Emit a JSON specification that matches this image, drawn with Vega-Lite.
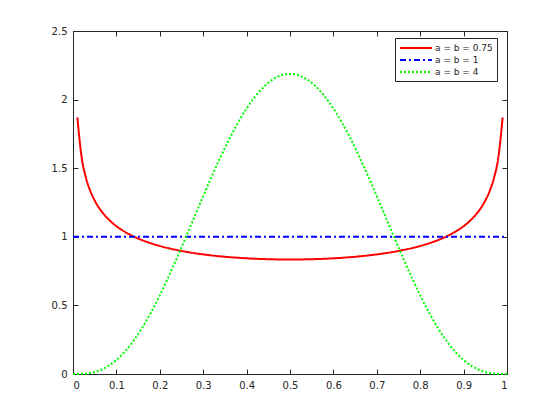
{
  "$schema": "https://vega.github.io/schema/vega-lite/v6.json",
  "width": 434,
  "height": 343,
  "autosize": "none",
  "padding": {"left": 73, "top": 31, "right": 53, "bottom": 46},
  "background": "white",
  "config": {
    "font": "DejaVu Sans",
    "view": {"stroke": "#262626", "strokeWidth": 1},
    "axis": {"grid": false, "domainColor": "#262626", "tickColor": "#262626", "labelColor": "#262626", "labelFontSize": 10, "labelFont": "DejaVu Sans", "title": null}
  },
  "data": {"values": [
    {"s": "a = b = 0.75", "x": 0.01, "y": 1.871},
    {"s": "a = b = 0.75", "x": 0.02, "y": 1.5773},
    {"s": "a = b = 0.75", "x": 0.03, "y": 1.4289},
    {"s": "a = b = 0.75", "x": 0.04, "y": 1.3332},
    {"s": "a = b = 0.75", "x": 0.05, "y": 1.2642},
    {"s": "a = b = 0.75", "x": 0.06, "y": 1.2111},
    {"s": "a = b = 0.75", "x": 0.08, "y": 1.1331},
    {"s": "a = b = 0.75", "x": 0.10, "y": 1.0775},
    {"s": "a = b = 0.75", "x": 0.12, "y": 1.0353},
    {"s": "a = b = 0.75", "x": 0.14, "y": 1.0019},
    {"s": "a = b = 0.75", "x": 0.17, "y": 0.963},
    {"s": "a = b = 0.75", "x": 0.20, "y": 0.9332},
    {"s": "a = b = 0.75", "x": 0.25, "y": 0.8969},
    {"s": "a = b = 0.75", "x": 0.30, "y": 0.8718},
    {"s": "a = b = 0.75", "x": 0.35, "y": 0.8546},
    {"s": "a = b = 0.75", "x": 0.40, "y": 0.8432},
    {"s": "a = b = 0.75", "x": 0.45, "y": 0.8367},
    {"s": "a = b = 0.75", "x": 0.50, "y": 0.8346},
    {"s": "a = b = 0.75", "x": 0.55, "y": 0.8367},
    {"s": "a = b = 0.75", "x": 0.60, "y": 0.8432},
    {"s": "a = b = 0.75", "x": 0.65, "y": 0.8546},
    {"s": "a = b = 0.75", "x": 0.70, "y": 0.8718},
    {"s": "a = b = 0.75", "x": 0.75, "y": 0.8969},
    {"s": "a = b = 0.75", "x": 0.80, "y": 0.9332},
    {"s": "a = b = 0.75", "x": 0.83, "y": 0.963},
    {"s": "a = b = 0.75", "x": 0.86, "y": 1.0019},
    {"s": "a = b = 0.75", "x": 0.88, "y": 1.0353},
    {"s": "a = b = 0.75", "x": 0.90, "y": 1.0775},
    {"s": "a = b = 0.75", "x": 0.92, "y": 1.1331},
    {"s": "a = b = 0.75", "x": 0.94, "y": 1.2111},
    {"s": "a = b = 0.75", "x": 0.95, "y": 1.2642},
    {"s": "a = b = 0.75", "x": 0.96, "y": 1.3332},
    {"s": "a = b = 0.75", "x": 0.97, "y": 1.4289},
    {"s": "a = b = 0.75", "x": 0.98, "y": 1.5773},
    {"s": "a = b = 0.75", "x": 0.99, "y": 1.871},
    {"s": "a = b = 1", "x": 0, "y": 1},
    {"s": "a = b = 1", "x": 1, "y": 1},
    {"s": "a = b = 4", "x": 0.00, "y": 0},
    {"s": "a = b = 4", "x": 0.02, "y": 0.0011},
    {"s": "a = b = 4", "x": 0.04, "y": 0.0079},
    {"s": "a = b = 4", "x": 0.06, "y": 0.0251},
    {"s": "a = b = 4", "x": 0.08, "y": 0.0558},
    {"s": "a = b = 4", "x": 0.10, "y": 0.1021},
    {"s": "a = b = 4", "x": 0.12, "y": 0.1649},
    {"s": "a = b = 4", "x": 0.14, "y": 0.2443},
    {"s": "a = b = 4", "x": 0.16, "y": 0.3399},
    {"s": "a = b = 4", "x": 0.18, "y": 0.4502},
    {"s": "a = b = 4", "x": 0.20, "y": 0.5734},
    {"s": "a = b = 4", "x": 0.22, "y": 0.7074},
    {"s": "a = b = 4", "x": 0.24, "y": 0.8496},
    {"s": "a = b = 4", "x": 0.26, "y": 0.9971},
    {"s": "a = b = 4", "x": 0.28, "y": 1.1471},
    {"s": "a = b = 4", "x": 0.30, "y": 1.2965},
    {"s": "a = b = 4", "x": 0.32, "y": 1.4425},
    {"s": "a = b = 4", "x": 0.34, "y": 1.582},
    {"s": "a = b = 4", "x": 0.36, "y": 1.7123},
    {"s": "a = b = 4", "x": 0.38, "y": 1.8309},
    {"s": "a = b = 4", "x": 0.40, "y": 1.9354},
    {"s": "a = b = 4", "x": 0.42, "y": 2.0238},
    {"s": "a = b = 4", "x": 0.44, "y": 2.0944},
    {"s": "a = b = 4", "x": 0.46, "y": 2.1458},
    {"s": "a = b = 4", "x": 0.48, "y": 2.177},
    {"s": "a = b = 4", "x": 0.50, "y": 2.1875},
    {"s": "a = b = 4", "x": 0.52, "y": 2.177},
    {"s": "a = b = 4", "x": 0.54, "y": 2.1458},
    {"s": "a = b = 4", "x": 0.56, "y": 2.0944},
    {"s": "a = b = 4", "x": 0.58, "y": 2.0238},
    {"s": "a = b = 4", "x": 0.60, "y": 1.9354},
    {"s": "a = b = 4", "x": 0.62, "y": 1.8309},
    {"s": "a = b = 4", "x": 0.64, "y": 1.7123},
    {"s": "a = b = 4", "x": 0.66, "y": 1.582},
    {"s": "a = b = 4", "x": 0.68, "y": 1.4425},
    {"s": "a = b = 4", "x": 0.70, "y": 1.2965},
    {"s": "a = b = 4", "x": 0.72, "y": 1.1471},
    {"s": "a = b = 4", "x": 0.74, "y": 0.9971},
    {"s": "a = b = 4", "x": 0.76, "y": 0.8496},
    {"s": "a = b = 4", "x": 0.78, "y": 0.7074},
    {"s": "a = b = 4", "x": 0.80, "y": 0.5734},
    {"s": "a = b = 4", "x": 0.82, "y": 0.4502},
    {"s": "a = b = 4", "x": 0.84, "y": 0.3399},
    {"s": "a = b = 4", "x": 0.86, "y": 0.2443},
    {"s": "a = b = 4", "x": 0.88, "y": 0.1649},
    {"s": "a = b = 4", "x": 0.90, "y": 0.1021},
    {"s": "a = b = 4", "x": 0.92, "y": 0.0558},
    {"s": "a = b = 4", "x": 0.94, "y": 0.0251},
    {"s": "a = b = 4", "x": 0.96, "y": 0.0079},
    {"s": "a = b = 4", "x": 0.98, "y": 0.0011},
    {"s": "a = b = 4", "x": 1.00, "y": 0}
  ]},
  "layer": [
    {
      "mark": {"type": "line", "strokeWidth": 2, "interpolate": "monotone"},
      "encoding": {
        "x": {"field": "x", "type": "quantitative", "scale": {"domain": [0, 1], "nice": false},
              "axis": {"orient": "bottom", "values": [0,0.1,0.2,0.3,0.4,0.5,0.6,0.7,0.8,0.9,1], "format": "~f", "tickSize": -5, "labelPadding": 11}},
        "y": {"field": "y", "type": "quantitative", "scale": {"domain": [0, 2.5], "nice": false, "zero": false},
              "axis": {"orient": "left", "values": [0,0.5,1,1.5,2,2.5], "format": "~f", "tickSize": -5, "labelPadding": 11}},
        "color": {"field": "s", "type": "nominal",
                  "scale": {"domain": ["a = b = 0.75", "a = b = 1", "a = b = 4"], "range": ["#ff0000", "#0000ff", "#00ff00"]},
                  "legend": {"title": null, "orient": "none", "legendX": 322, "legendY": 7, "symbolType": "M-3.2,0H3.2", "symbolSize": 100, "symbolOffset": 11, "symbolStrokeWidth": 2, "labelFontSize": 9, "labelFont": "DejaVu Sans", "labelColor": "#262626", "strokeColor": "#262626", "fillColor": "white", "padding": 4, "rowPadding": 1, "labelOffset": 13, "cornerRadius": 0}},
        "strokeDash": {"field": "s", "type": "nominal",
                  "scale": {"domain": ["a = b = 0.75", "a = b = 1", "a = b = 4"], "range": [[1, 0], [6, 3, 2, 3], [2, 2]]},
                  "legend": {"title": null, "orient": "none", "legendX": 322, "legendY": 7}}
      }
    },
    {
      "transform": [{"filter": "datum.s === 'a = b = 1'"}],
      "mark": {"type": "line", "opacity": 0},
      "encoding": {
        "x": {"field": "x", "type": "quantitative", "scale": {"domain": [0, 1], "nice": false},
              "axis": {"orient": "top", "values": [0,0.1,0.2,0.3,0.4,0.5,0.6,0.7,0.8,0.9,1], "labels": false, "tickSize": -5}},
        "y": {"field": "y", "type": "quantitative", "scale": {"domain": [0, 2.5], "nice": false, "zero": false},
              "axis": {"orient": "right", "values": [0,0.5,1,1.5,2,2.5], "labels": false, "tickSize": -5}}
      }
    }
  ],
  "resolve": {"axis": {"x": "independent", "y": "independent"}}
}
